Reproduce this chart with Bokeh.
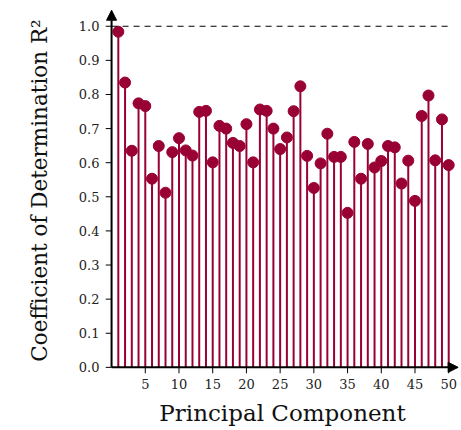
from bokeh.plotting import figure
from bokeh.models import Range1d, Arrow, NormalHead, FixedTicker, Title
from bokeh.embed import file_html
from bokeh.resources import INLINE

components = list(range(1, 51))
r2_values = [0.984, 0.835, 0.635, 0.774, 0.766, 0.553, 0.649, 0.512, 0.631, 0.672,
             0.636, 0.621, 0.749, 0.752, 0.601, 0.708, 0.700, 0.658, 0.649, 0.713,
             0.601, 0.756, 0.752, 0.700, 0.640, 0.674, 0.751, 0.824, 0.620, 0.526,
             0.598, 0.685, 0.617, 0.617, 0.453, 0.661, 0.553, 0.655, 0.586, 0.605,
             0.649, 0.645, 0.539, 0.606, 0.488, 0.737, 0.797, 0.607, 0.727, 0.593]
x_ticks = [5, 10, 15, 20, 25, 30, 35, 40, 45, 50]
y_ticks = [0.0, 0.1, 0.2, 0.3, 0.4, 0.5, 0.6, 0.7, 0.8, 0.9, 1.0]
reference_level = 1.0

color = "#990033"
font = "DejaVu Serif"

x_start, x_end = -0.9, 51.6
y_start, y_end = -0.018, 1.055
arrow_x_end = 51.4
arrow_y_end = 1.047

p = figure(width=460, height=428, output_backend="svg", toolbar_location=None,
           x_range=Range1d(x_start, x_end), y_range=Range1d(y_start, y_end),
           min_border_left=103, min_border_right=1, min_border_top=7, min_border_bottom=55)
p.outline_line_color = None
p.grid.grid_line_color = None
p.background_fill_color = "white"

p.segment(x0=components, y0=[0] * len(components), x1=components, y1=r2_values,
          line_color=color, line_width=2)
p.scatter(components, r2_values, size=11, fill_color=color, line_color=color)

p.segment(x0=[0], y0=[reference_level], x1=[50], y1=[reference_level],
          line_color="black", line_width=1, line_dash="6 5")

# tick marks reaching from the frame edge to the axis lines
p.segment(x0=[x_start] * len(y_ticks), y0=y_ticks, x1=[0] * len(y_ticks), y1=y_ticks,
          line_color="black", line_width=1)
p.segment(x0=x_ticks, y0=[y_start] * len(x_ticks), x1=x_ticks, y1=[0] * len(x_ticks),
          line_color="black", line_width=1)

for ax in (p.xaxis[0], p.yaxis[0]):
    ax.axis_line_color = None
    ax.major_tick_line_color = None
    ax.major_tick_in = 0
    ax.major_tick_out = 0
    ax.minor_tick_line_color = None
    ax.major_label_text_font = font
    ax.major_label_text_font_size = "13px"
    ax.major_label_text_color = "#222222"
    ax.axis_label_text_font = font
    ax.axis_label_text_font_size = "23px"
    ax.axis_label_text_font_style = "normal"
    ax.axis_label_text_color = "#111111"

p.xaxis.ticker = FixedTicker(ticks=x_ticks)
p.yaxis.ticker = FixedTicker(ticks=y_ticks)
p.yaxis.major_label_overrides = {t: f"{t:.1f}" for t in y_ticks}
p.xaxis.axis_label = "Principal Component"
p.xaxis.major_label_standoff = 5
p.yaxis.major_label_standoff = 6
p.xaxis.axis_label_standoff = 8

ylabel = Title(text="Coefficient of Determination R²", align="center", offset=25,
               text_font=font, text_font_size="21.5px", text_font_style="normal",
               text_color="#111111", standoff=48)
p.add_layout(ylabel, "left")

p.add_layout(Arrow(end=NormalHead(size=10, fill_color="black", line_color="black", line_width=1),
                   x_start=0, y_start=0, x_end=arrow_x_end, y_end=0,
                   line_color="black", line_width=2))
p.add_layout(Arrow(end=NormalHead(size=10, fill_color="black", line_color="black", line_width=1),
                   x_start=0, y_start=0, x_end=0, y_end=arrow_y_end,
                   line_color="black", line_width=2))

open("out.html", "w").write(file_html(p, INLINE))
